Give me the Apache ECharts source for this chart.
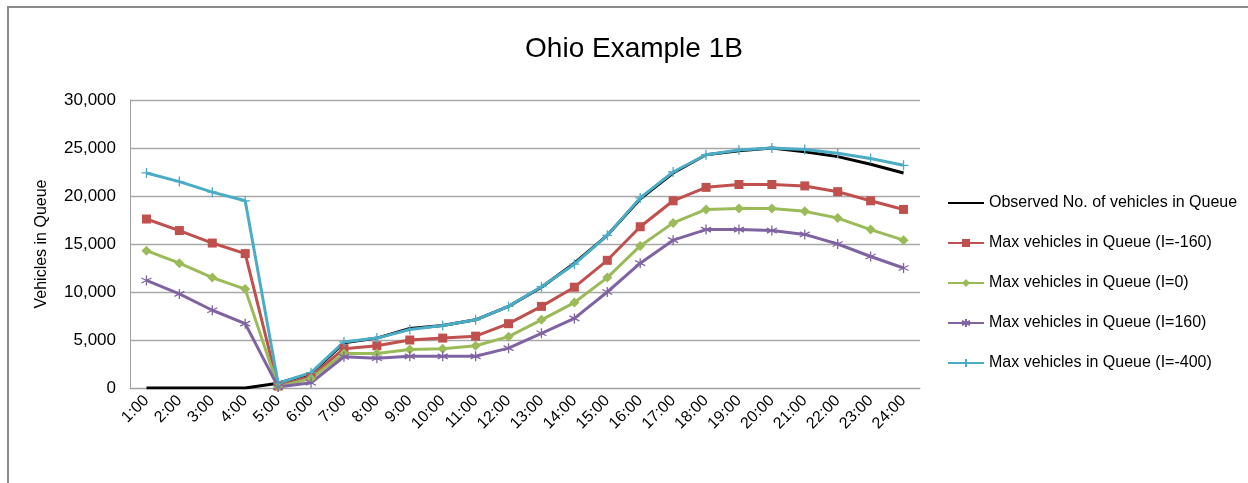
<!DOCTYPE html>
<html>
<head>
<meta charset="utf-8">
<script src="https://cdn.jsdelivr.net/npm/echarts@6/dist/echarts.min.js"></script>
<style>
  html, body { margin: 0; padding: 0; background: #fff; }
  #frame { position: absolute; left: 7px; top: 6px; width: 1241px; height: 477px;
           border-left: 2px solid #8a8a8a; border-top: 2px solid #8a8a8a; box-sizing: border-box; }
  #chart { position: absolute; left: 0; top: 0; width: 1248px; height: 483px; }
</style>
</head>
<body>
<div id="frame"></div>
<div id="chart"></div>
<script>
var hours = ["1:00","2:00","3:00","4:00","5:00","6:00","7:00","8:00","9:00","10:00","11:00","12:00",
             "13:00","14:00","15:00","16:00","17:00","18:00","19:00","20:00","21:00","22:00","23:00","24:00"];

var observed = [0,0,0,0,500,1500,4700,5200,6200,6500,7100,8500,10500,13000,15900,19700,22400,24300,24700,25000,24600,24100,23300,22400];
var maxNeg160 = [17600,16400,15100,14000,200,1200,4100,4400,5000,5200,5400,6700,8500,10500,13300,16800,19500,20900,21200,21200,21050,20450,19500,18600];
var maxZero   = [14300,13000,11500,10300,100,1000,3600,3600,4000,4100,4400,5350,7100,8900,11500,14800,17200,18600,18700,18700,18400,17700,16500,15400];
var maxPos160 = [11200,9800,8100,6700,100,550,3250,3100,3300,3300,3300,4150,5700,7250,10000,13000,15400,16500,16500,16400,16000,15000,13700,12500];
var maxNeg400 = [22400,21500,20400,19500,500,1600,4800,5200,6100,6500,7100,8500,10550,12900,15900,19800,22500,24300,24800,25000,24850,24450,23900,23200];

var yTicks = { min: 0, max: 30000, interval: 5000 };

var fontFam = '"Liberation Sans", sans-serif';
var starPath = 'path://M5,0 L5,10 M0.7,2.5 L9.3,7.5 M9.3,2.5 L0.7,7.5';
var plusPath = 'path://M5,0 L5,10 M0,5 L10,5';
// thin bar inside a 10x10 box, so the legend shows a plain line for the observed series
var flatPath = 'path://M0,0 L0,0 M10,10 L10,10 M0,4.3 L10,4.3 L10,5.7 L0,5.7 Z';

function makeSeries(name, data, color, symbol, size, lineSymbol){
    var s = {
        name: name,
        type: 'line',
        data: data,
        symbol: symbol,
        symbolSize: size,
        showSymbol: symbol !== flatPath,
        lineStyle: { color: color, width: 3 },
        itemStyle: { color: color },
        emphasis: { disabled: true },
        animation: false
    };
    if (lineSymbol) {
        s.itemStyle = { color: color, borderColor: color, borderWidth: 1.3 };
    }
    if (symbol === flatPath) {
        s.itemStyle = { color: color, borderWidth: 0 };
    }
    return s;
}

var chart = echarts.init(document.getElementById('chart'));
chart.setOption({
    backgroundColor: 'transparent',
    textStyle: { fontFamily: fontFam },
    title: {
        text: 'Ohio Example 1B',
        left: 629, top: 30, textAlign: 'center',
        textStyle: { fontFamily: fontFam, fontSize: 28, fontWeight: 'normal', color: '#000' }
    },
    legend: {
        orient: 'vertical',
        left: 947, top: 195, padding: 0,
        itemWidth: 36, itemHeight: 10, itemGap: 24,
        textStyle: { fontFamily: fontFam, fontSize: 16, color: '#000' },
        data: ['Observed No. of vehicles in Queue','Max vehicles in Queue (I=-160)','Max vehicles in Queue (I=0)',
               'Max vehicles in Queue (I=160)','Max vehicles in Queue (I=-400)']
    },
    grid: { left: 130, top: 100, width: 790, height: 288 },
    xAxis: {
        type: 'category',
        data: hours,
        boundaryGap: true,
        axisLine: { lineStyle: { color: '#a0a0a0', width: 1 } },
        axisTick: { show: false },
        axisLabel: { rotate: 45, fontFamily: fontFam, fontSize: 16, color: '#000', margin: 10, interval: 0 }
    },
    yAxis: {
        type: 'value',
        min: yTicks.min, max: yTicks.max, interval: yTicks.interval,
        name: 'Vehicles in Queue',
        nameLocation: 'middle',
        nameGap: 80,
        nameRotate: 90,
        nameTextStyle: { fontFamily: fontFam, fontSize: 16, color: '#000' },
        axisLine: { show: true, lineStyle: { color: '#a0a0a0' } },
        axisTick: { show: false },
        splitLine: { lineStyle: { color: '#a8a8a8', width: 1.3 } },
        axisLabel: {
            fontFamily: fontFam, fontSize: 17, color: '#000', margin: 14,
            formatter: function(v){ return v.toLocaleString('en-US'); }
        }
    },
    series: [
        makeSeries('Observed No. of vehicles in Queue', observed, '#000000', flatPath, 10),
        makeSeries('Max vehicles in Queue (I=-160)', maxNeg160, '#c0504d', 'rect', 9),
        makeSeries('Max vehicles in Queue (I=0)', maxZero, '#9bbb59', 'diamond', 10),
        makeSeries('Max vehicles in Queue (I=160)', maxPos160, '#8064a2', starPath, 10, true),
        makeSeries('Max vehicles in Queue (I=-400)', maxNeg400, '#4bacc6', plusPath, 10, true)
    ]
});
</script>
</body>
</html>
